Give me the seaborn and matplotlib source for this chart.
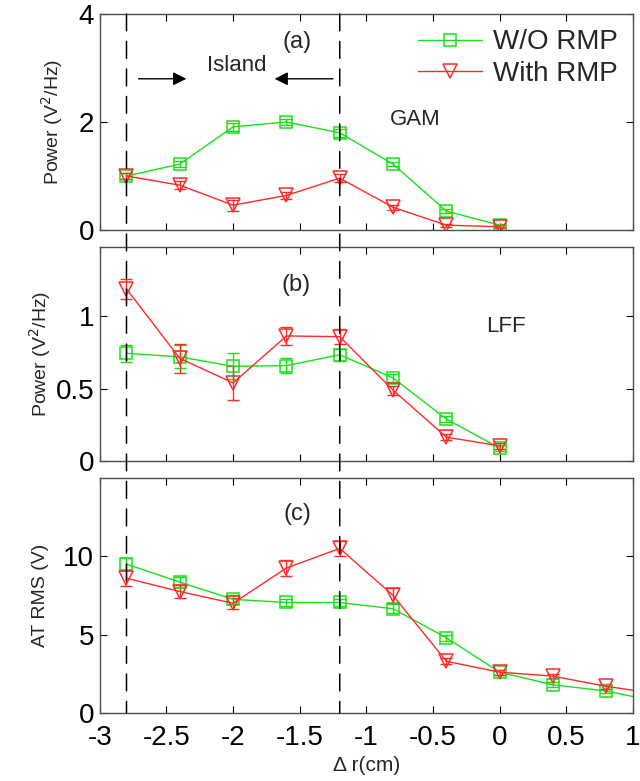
import numpy as np
import pandas as pd
import matplotlib
matplotlib.use('Agg')
import matplotlib.pyplot as plt
from matplotlib.patches import ConnectionPatch
import seaborn as sns

# ---- data ----
r_power = [-2.8, -2.4, -2.0, -1.6, -1.2, -0.8, -0.4, 0.0]
r_rms = [-2.8, -2.4, -2.0, -1.6, -1.2, -0.8, -0.4, 0.0, 0.4, 0.8, 1.2]

gam_wo = [1.00, 1.22, 1.91, 2.00, 1.80, 1.22, 0.35, 0.09]
gam_wo_err = [0.05, 0.05, 0.07, 0.06, 0.07, 0.04, 0.04, 0.03]
gam_with = [1.00, 0.83, 0.46, 0.64, 0.96, 0.42, 0.09, 0.06]
gam_with_err = [0.06, 0.07, 0.10, 0.06, 0.07, 0.05, 0.03, 0.03]

lff_wo = [0.745, 0.72, 0.655, 0.66, 0.735, 0.575, 0.29, 0.09]
lff_wo_err = [0.06, 0.08, 0.09, 0.05, 0.04, 0.03, 0.02, 0.02]
lff_with = [1.19, 0.71, 0.54, 0.865, 0.86, 0.49, 0.165, 0.105]
lff_with_err = [0.07, 0.1, 0.12, 0.06, 0.05, 0.03, 0.02, 0.02]

rms_wo = [9.5, 8.35, 7.25, 7.05, 7.05, 6.65, 4.8, 2.6, 1.8, 1.4, 0.7]
rms_wo_err = [0.4, 0.3, 0.3, 0.2, 0.2, 0.3, 0.2, 0.15, 0.15, 0.15, 0.1]
rms_with = [8.6, 7.75, 7.0, 9.25, 10.5, 7.5, 3.3, 2.6, 2.35, 1.7, 1.2]
rms_with_err = [0.5, 0.4, 0.35, 0.5, 0.5, 0.5, 0.2, 0.15, 0.15, 0.15, 0.1]

island_edges = [-2.8, -1.2]
x_ticks = [-3, -2.5, -2, -1.5, -1, -0.5, 0, 0.5, 1]
x_ticklabels = ['-3', '-2.5', '-2', '-1.5', '-1', '-0.5', '0', '0.5', '1']

green = '#19e019'
red = '#ff2a2a'

sns.set_style('ticks')
plt.rcParams['font.family'] = ['Liberation Sans', 'DejaVu Sans']
plt.rcParams['xtick.direction'] = 'in'
plt.rcParams['ytick.direction'] = 'in'

fig = plt.figure(figsize=(6.4, 7.81), dpi=100)
ax_a = fig.add_axes([0.156, 0.7055, 0.833, 0.2766])
ax_b = fig.add_axes([0.156, 0.4097, 0.833, 0.274])
ax_c = fig.add_axes([0.156, 0.0871, 0.833, 0.301])


def draw_pair(ax, x, wo, wo_err, wi, wi_err):
    ax.errorbar(x, wo, yerr=wo_err, fmt='none', ecolor=green, elinewidth=1.0, capsize=4, capthick=1.0)
    ax.errorbar(x, wi, yerr=wi_err, fmt='none', ecolor=red, elinewidth=1.0, capsize=4, capthick=1.0)
    sns.lineplot(x=x, y=wo, ax=ax, color=green, lw=1.0, marker='s', markersize=8,
                 markerfacecolor='none', markeredgecolor=green, markeredgewidth=1.1,
                 sort=False, label='W/O RMP')
    sns.lineplot(x=x, y=wi, ax=ax, color=red, lw=1.0, marker='v', markersize=10,
                 markerfacecolor='none', markeredgecolor=red, markeredgewidth=1.1,
                 sort=False, label='With RMP')


draw_pair(ax_a, r_power, gam_wo, gam_wo_err, gam_with, gam_with_err)
draw_pair(ax_b, r_power, lff_wo, lff_wo_err, lff_with, lff_with_err)
draw_pair(ax_c, r_rms, rms_wo, rms_wo_err, rms_with, rms_with_err)

ax_a.set_ylim(0, 4)
ax_a.set_yticks([0, 2, 4])
ax_b.set_ylim(0, 1.48)
ax_b.set_yticks([0, 0.5, 1])
ax_b.set_yticklabels(['0', '0.5', '1'])
ax_c.set_ylim(0, 15)
ax_c.set_yticks([0, 5, 10])

for ax in (ax_a, ax_b, ax_c):
    ax.set_xlim(-3, 1)
    ax.set_xticks(x_ticks)
    ax.tick_params(top=True, right=True, length=5, width=0.8, labelsize=20, colors='black', pad=4)
    for s in ax.spines.values():
        s.set_color('0.3')
        s.set_linewidth(1.0)
    ax.set_xlabel('')
    ax.get_legend().remove()
for ax in (ax_a, ax_b):
    ax.tick_params(labelbottom=False)
ax_c.set_xticklabels(x_ticklabels)
ax_c.tick_params(axis='x', pad=9)

ax_a.set_ylabel('Power (V$^2$/Hz)', fontsize=14, labelpad=10)
ax_b.set_ylabel('Power (V$^2$/Hz)', fontsize=14, labelpad=2)
ax_c.set_ylabel('AT RMS (V)', fontsize=14, labelpad=10)
ax_c.set_xlabel('\u0394 r(cm)', fontsize=15, labelpad=3)

# legend, panel (a)
h, l = ax_a.get_legend_handles_labels()
ax_a.legend(h[-2:], l[-2:], loc='upper right', frameon=False, fontsize=20,
            handlelength=2.3, handletextpad=0.4, labelspacing=0.2,
            borderaxespad=0.15)

# panel labels and annotations
ax_a.text(-1.52, 3.48, '(a)', fontsize=17, ha='center', va='center')
ax_b.text(-1.53, 1.22, '(b)', fontsize=17, ha='center', va='center')
ax_c.text(-1.52, 12.7, '(c)', fontsize=17, ha='center', va='center')
ax_a.text(-0.63, 2.04, 'GAM', fontsize=16, ha='center', va='center')
ax_b.text(0.05, 0.93, 'LFF', fontsize=16, ha='center', va='center')
ax_a.text(-1.97, 3.04, 'Island', fontsize=16, ha='center', va='center')
ax_a.annotate('', xy=(-2.33, 2.8), xytext=(-2.73, 2.8),
              arrowprops=dict(arrowstyle='-|>', color='black', lw=1.0, mutation_scale=20))
ax_a.annotate('', xy=(-1.71, 2.8), xytext=(-1.23, 2.8),
              arrowprops=dict(arrowstyle='-|>', color='black', lw=1.0, mutation_scale=20))

# dashed island boundaries through all panels
for xe in island_edges:
    con = ConnectionPatch(xyA=(xe, 4), coordsA=ax_a.transData,
                          xyB=(xe, 0), coordsB=ax_c.transData,
                          color='black', lw=1.1, linestyle=(0, (11, 7)), zorder=5)
    fig.add_artist(con)

fig.savefig('out.png', dpi=100)
